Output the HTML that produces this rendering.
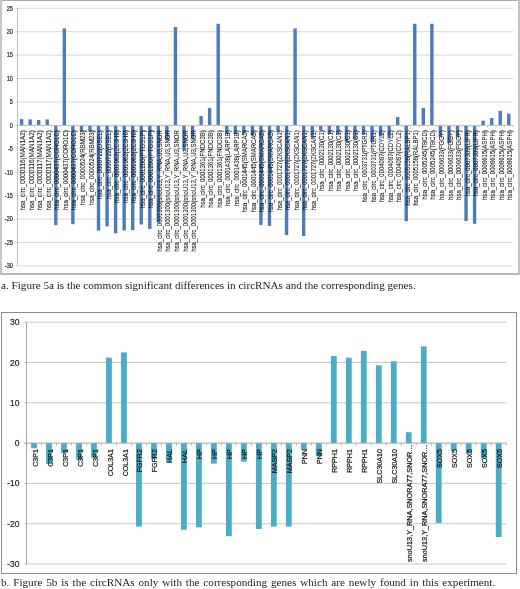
<!DOCTYPE html>
<html><head><meta charset="utf-8"><title>Figure 5</title>
<style>
html,body{margin:0;padding:0;background:#fff;}
body{width:520px;height:589px;position:relative;overflow:hidden;font-family:"Liberation Sans",sans-serif;}
svg text{font-family:"Liberation Sans",sans-serif;}
.cap{will-change:transform;position:absolute;left:1px;font-family:"Liberation Serif",serif;color:#222;white-space:nowrap;line-height:1;}
#capa{top:280px;font-size:11.15px;}
#capb{top:576.8px;font-size:11.15px;word-spacing:1.1px;}
</style></head>
<body>
<svg width="520" height="589" viewBox="0 0 520 589" style="position:absolute;left:0;top:0;will-change:transform">
<rect x="0" y="0" width="520" height="1" fill="#a9a9a9"/>
<rect x="0" y="0" width="2" height="275" fill="#c6c6c6"/>
<rect x="518" y="0" width="2" height="275" fill="#c2c2c2"/>
<rect x="0" y="273" width="520" height="2" fill="#b9b9b9"/>
<line x1="15.50" y1="8.30" x2="513.20" y2="8.30" stroke="#d8d8d8" stroke-width="1"/>
<line x1="15.50" y1="31.72" x2="513.20" y2="31.72" stroke="#d8d8d8" stroke-width="1"/>
<line x1="15.50" y1="55.14" x2="513.20" y2="55.14" stroke="#d8d8d8" stroke-width="1"/>
<line x1="15.50" y1="78.56" x2="513.20" y2="78.56" stroke="#d8d8d8" stroke-width="1"/>
<line x1="15.50" y1="101.98" x2="513.20" y2="101.98" stroke="#d8d8d8" stroke-width="1"/>
<line x1="15.50" y1="148.82" x2="513.20" y2="148.82" stroke="#d8d8d8" stroke-width="1"/>
<line x1="15.50" y1="172.24" x2="513.20" y2="172.24" stroke="#d8d8d8" stroke-width="1"/>
<line x1="15.50" y1="195.66" x2="513.20" y2="195.66" stroke="#d8d8d8" stroke-width="1"/>
<line x1="15.50" y1="219.08" x2="513.20" y2="219.08" stroke="#d8d8d8" stroke-width="1"/>
<line x1="15.50" y1="242.50" x2="513.20" y2="242.50" stroke="#d8d8d8" stroke-width="1"/>
<line x1="15.50" y1="265.92" x2="513.20" y2="265.92" stroke="#d8d8d8" stroke-width="1"/>
<line x1="17.50" y1="8.30" x2="17.50" y2="265.92" stroke="#bfbfbf" stroke-width="1"/>
<rect x="19.90" y="119.08" width="3.40" height="6.32" fill="#4a7cba"/>
<rect x="28.45" y="119.40" width="3.40" height="6.00" fill="#4a7cba"/>
<rect x="36.99" y="119.92" width="3.40" height="5.48" fill="#4a7cba"/>
<rect x="45.54" y="119.40" width="3.40" height="6.00" fill="#4a7cba"/>
<rect x="54.09" y="125.40" width="3.40" height="99.77" fill="#4a7cba"/>
<rect x="62.64" y="28.44" width="3.40" height="96.96" fill="#4a7cba"/>
<rect x="71.18" y="125.40" width="3.40" height="98.83" fill="#4a7cba"/>
<rect x="79.73" y="125.40" width="3.40" height="6.09" fill="#4a7cba"/>
<rect x="88.28" y="125.40" width="3.40" height="6.09" fill="#4a7cba"/>
<rect x="96.82" y="125.40" width="3.40" height="105.16" fill="#4a7cba"/>
<rect x="105.37" y="125.40" width="3.40" height="100.94" fill="#4a7cba"/>
<rect x="113.92" y="125.40" width="3.40" height="107.97" fill="#4a7cba"/>
<rect x="122.46" y="125.40" width="3.40" height="105.16" fill="#4a7cba"/>
<rect x="131.01" y="125.40" width="3.40" height="104.69" fill="#4a7cba"/>
<rect x="139.56" y="125.40" width="3.40" height="99.07" fill="#4a7cba"/>
<rect x="148.11" y="125.40" width="3.40" height="103.52" fill="#4a7cba"/>
<rect x="156.65" y="125.40" width="3.40" height="96.96" fill="#4a7cba"/>
<rect x="165.20" y="125.40" width="3.40" height="14.52" fill="#4a7cba"/>
<rect x="173.75" y="27.04" width="3.40" height="98.36" fill="#4a7cba"/>
<rect x="182.29" y="125.40" width="3.40" height="24.83" fill="#4a7cba"/>
<rect x="190.84" y="125.40" width="3.40" height="13.12" fill="#4a7cba"/>
<rect x="199.39" y="116.03" width="3.40" height="9.37" fill="#4a7cba"/>
<rect x="207.93" y="108.07" width="3.40" height="17.33" fill="#4a7cba"/>
<rect x="216.48" y="23.76" width="3.40" height="101.64" fill="#4a7cba"/>
<rect x="225.03" y="125.40" width="3.40" height="8.67" fill="#4a7cba"/>
<rect x="233.58" y="125.40" width="3.40" height="8.67" fill="#4a7cba"/>
<rect x="242.12" y="125.40" width="3.40" height="7.96" fill="#4a7cba"/>
<rect x="250.67" y="125.40" width="3.40" height="10.30" fill="#4a7cba"/>
<rect x="259.22" y="125.40" width="3.40" height="99.53" fill="#4a7cba"/>
<rect x="267.76" y="125.40" width="3.40" height="100.47" fill="#4a7cba"/>
<rect x="276.31" y="125.40" width="3.40" height="7.03" fill="#4a7cba"/>
<rect x="284.86" y="125.40" width="3.40" height="109.61" fill="#4a7cba"/>
<rect x="293.40" y="28.44" width="3.40" height="96.96" fill="#4a7cba"/>
<rect x="301.95" y="125.40" width="3.40" height="110.54" fill="#4a7cba"/>
<rect x="310.50" y="125.40" width="3.40" height="12.18" fill="#4a7cba"/>
<rect x="319.05" y="125.40" width="3.40" height="5.15" fill="#4a7cba"/>
<rect x="327.59" y="125.40" width="3.40" height="8.67" fill="#4a7cba"/>
<rect x="336.14" y="125.40" width="3.40" height="9.37" fill="#4a7cba"/>
<rect x="344.69" y="125.40" width="3.40" height="16.39" fill="#4a7cba"/>
<rect x="353.23" y="125.40" width="3.40" height="13.82" fill="#4a7cba"/>
<rect x="361.78" y="125.40" width="3.40" height="9.37" fill="#4a7cba"/>
<rect x="370.33" y="125.40" width="3.40" height="16.86" fill="#4a7cba"/>
<rect x="378.87" y="125.40" width="3.40" height="11.24" fill="#4a7cba"/>
<rect x="387.42" y="125.40" width="3.40" height="12.65" fill="#4a7cba"/>
<rect x="395.97" y="116.97" width="3.40" height="8.43" fill="#4a7cba"/>
<rect x="404.52" y="125.40" width="3.40" height="95.79" fill="#4a7cba"/>
<rect x="413.06" y="23.76" width="3.40" height="101.64" fill="#4a7cba"/>
<rect x="421.61" y="108.07" width="3.40" height="17.33" fill="#4a7cba"/>
<rect x="430.16" y="23.76" width="3.40" height="101.64" fill="#4a7cba"/>
<rect x="438.70" y="125.40" width="3.40" height="11.71" fill="#4a7cba"/>
<rect x="447.25" y="125.40" width="3.40" height="17.80" fill="#4a7cba"/>
<rect x="455.80" y="125.40" width="3.40" height="11.71" fill="#4a7cba"/>
<rect x="464.34" y="125.40" width="3.40" height="95.55" fill="#4a7cba"/>
<rect x="472.89" y="125.40" width="3.40" height="98.36" fill="#4a7cba"/>
<rect x="481.44" y="120.72" width="3.40" height="4.68" fill="#4a7cba"/>
<rect x="489.99" y="118.14" width="3.40" height="7.26" fill="#4a7cba"/>
<rect x="498.53" y="110.88" width="3.40" height="14.52" fill="#4a7cba"/>
<rect x="507.08" y="113.69" width="3.40" height="11.71" fill="#4a7cba"/>
<line x1="15.50" y1="125.40" x2="513.20" y2="125.40" stroke="#bfbfbf" stroke-width="1"/>
<line x1="17.50" y1="125.40" x2="17.50" y2="127.40" stroke="#bfbfbf" stroke-width="0.8"/>
<line x1="26.05" y1="125.40" x2="26.05" y2="127.40" stroke="#bfbfbf" stroke-width="0.8"/>
<line x1="34.59" y1="125.40" x2="34.59" y2="127.40" stroke="#bfbfbf" stroke-width="0.8"/>
<line x1="43.14" y1="125.40" x2="43.14" y2="127.40" stroke="#bfbfbf" stroke-width="0.8"/>
<line x1="51.69" y1="125.40" x2="51.69" y2="127.40" stroke="#bfbfbf" stroke-width="0.8"/>
<line x1="60.23" y1="125.40" x2="60.23" y2="127.40" stroke="#bfbfbf" stroke-width="0.8"/>
<line x1="68.78" y1="125.40" x2="68.78" y2="127.40" stroke="#bfbfbf" stroke-width="0.8"/>
<line x1="77.33" y1="125.40" x2="77.33" y2="127.40" stroke="#bfbfbf" stroke-width="0.8"/>
<line x1="85.88" y1="125.40" x2="85.88" y2="127.40" stroke="#bfbfbf" stroke-width="0.8"/>
<line x1="94.42" y1="125.40" x2="94.42" y2="127.40" stroke="#bfbfbf" stroke-width="0.8"/>
<line x1="102.97" y1="125.40" x2="102.97" y2="127.40" stroke="#bfbfbf" stroke-width="0.8"/>
<line x1="111.52" y1="125.40" x2="111.52" y2="127.40" stroke="#bfbfbf" stroke-width="0.8"/>
<line x1="120.06" y1="125.40" x2="120.06" y2="127.40" stroke="#bfbfbf" stroke-width="0.8"/>
<line x1="128.61" y1="125.40" x2="128.61" y2="127.40" stroke="#bfbfbf" stroke-width="0.8"/>
<line x1="137.16" y1="125.40" x2="137.16" y2="127.40" stroke="#bfbfbf" stroke-width="0.8"/>
<line x1="145.71" y1="125.40" x2="145.71" y2="127.40" stroke="#bfbfbf" stroke-width="0.8"/>
<line x1="154.25" y1="125.40" x2="154.25" y2="127.40" stroke="#bfbfbf" stroke-width="0.8"/>
<line x1="162.80" y1="125.40" x2="162.80" y2="127.40" stroke="#bfbfbf" stroke-width="0.8"/>
<line x1="171.35" y1="125.40" x2="171.35" y2="127.40" stroke="#bfbfbf" stroke-width="0.8"/>
<line x1="179.89" y1="125.40" x2="179.89" y2="127.40" stroke="#bfbfbf" stroke-width="0.8"/>
<line x1="188.44" y1="125.40" x2="188.44" y2="127.40" stroke="#bfbfbf" stroke-width="0.8"/>
<line x1="196.99" y1="125.40" x2="196.99" y2="127.40" stroke="#bfbfbf" stroke-width="0.8"/>
<line x1="205.53" y1="125.40" x2="205.53" y2="127.40" stroke="#bfbfbf" stroke-width="0.8"/>
<line x1="214.08" y1="125.40" x2="214.08" y2="127.40" stroke="#bfbfbf" stroke-width="0.8"/>
<line x1="222.63" y1="125.40" x2="222.63" y2="127.40" stroke="#bfbfbf" stroke-width="0.8"/>
<line x1="231.18" y1="125.40" x2="231.18" y2="127.40" stroke="#bfbfbf" stroke-width="0.8"/>
<line x1="239.72" y1="125.40" x2="239.72" y2="127.40" stroke="#bfbfbf" stroke-width="0.8"/>
<line x1="248.27" y1="125.40" x2="248.27" y2="127.40" stroke="#bfbfbf" stroke-width="0.8"/>
<line x1="256.82" y1="125.40" x2="256.82" y2="127.40" stroke="#bfbfbf" stroke-width="0.8"/>
<line x1="265.36" y1="125.40" x2="265.36" y2="127.40" stroke="#bfbfbf" stroke-width="0.8"/>
<line x1="273.91" y1="125.40" x2="273.91" y2="127.40" stroke="#bfbfbf" stroke-width="0.8"/>
<line x1="282.46" y1="125.40" x2="282.46" y2="127.40" stroke="#bfbfbf" stroke-width="0.8"/>
<line x1="291.00" y1="125.40" x2="291.00" y2="127.40" stroke="#bfbfbf" stroke-width="0.8"/>
<line x1="299.55" y1="125.40" x2="299.55" y2="127.40" stroke="#bfbfbf" stroke-width="0.8"/>
<line x1="308.10" y1="125.40" x2="308.10" y2="127.40" stroke="#bfbfbf" stroke-width="0.8"/>
<line x1="316.65" y1="125.40" x2="316.65" y2="127.40" stroke="#bfbfbf" stroke-width="0.8"/>
<line x1="325.19" y1="125.40" x2="325.19" y2="127.40" stroke="#bfbfbf" stroke-width="0.8"/>
<line x1="333.74" y1="125.40" x2="333.74" y2="127.40" stroke="#bfbfbf" stroke-width="0.8"/>
<line x1="342.29" y1="125.40" x2="342.29" y2="127.40" stroke="#bfbfbf" stroke-width="0.8"/>
<line x1="350.83" y1="125.40" x2="350.83" y2="127.40" stroke="#bfbfbf" stroke-width="0.8"/>
<line x1="359.38" y1="125.40" x2="359.38" y2="127.40" stroke="#bfbfbf" stroke-width="0.8"/>
<line x1="367.93" y1="125.40" x2="367.93" y2="127.40" stroke="#bfbfbf" stroke-width="0.8"/>
<line x1="376.47" y1="125.40" x2="376.47" y2="127.40" stroke="#bfbfbf" stroke-width="0.8"/>
<line x1="385.02" y1="125.40" x2="385.02" y2="127.40" stroke="#bfbfbf" stroke-width="0.8"/>
<line x1="393.57" y1="125.40" x2="393.57" y2="127.40" stroke="#bfbfbf" stroke-width="0.8"/>
<line x1="402.12" y1="125.40" x2="402.12" y2="127.40" stroke="#bfbfbf" stroke-width="0.8"/>
<line x1="410.66" y1="125.40" x2="410.66" y2="127.40" stroke="#bfbfbf" stroke-width="0.8"/>
<line x1="419.21" y1="125.40" x2="419.21" y2="127.40" stroke="#bfbfbf" stroke-width="0.8"/>
<line x1="427.76" y1="125.40" x2="427.76" y2="127.40" stroke="#bfbfbf" stroke-width="0.8"/>
<line x1="436.30" y1="125.40" x2="436.30" y2="127.40" stroke="#bfbfbf" stroke-width="0.8"/>
<line x1="444.85" y1="125.40" x2="444.85" y2="127.40" stroke="#bfbfbf" stroke-width="0.8"/>
<line x1="453.40" y1="125.40" x2="453.40" y2="127.40" stroke="#bfbfbf" stroke-width="0.8"/>
<line x1="461.94" y1="125.40" x2="461.94" y2="127.40" stroke="#bfbfbf" stroke-width="0.8"/>
<line x1="470.49" y1="125.40" x2="470.49" y2="127.40" stroke="#bfbfbf" stroke-width="0.8"/>
<line x1="479.04" y1="125.40" x2="479.04" y2="127.40" stroke="#bfbfbf" stroke-width="0.8"/>
<line x1="487.59" y1="125.40" x2="487.59" y2="127.40" stroke="#bfbfbf" stroke-width="0.8"/>
<line x1="496.13" y1="125.40" x2="496.13" y2="127.40" stroke="#bfbfbf" stroke-width="0.8"/>
<line x1="504.68" y1="125.40" x2="504.68" y2="127.40" stroke="#bfbfbf" stroke-width="0.8"/>
<line x1="513.23" y1="125.40" x2="513.23" y2="127.40" stroke="#bfbfbf" stroke-width="0.8"/>
<text transform="translate(12.8,10.57) scale(0.88,1)" font-size="6.3" text-anchor="end" fill="#222" stroke="#222" stroke-width="0.2">25</text>
<text transform="translate(12.8,33.99) scale(0.88,1)" font-size="6.3" text-anchor="end" fill="#222" stroke="#222" stroke-width="0.2">20</text>
<text transform="translate(12.8,57.41) scale(0.88,1)" font-size="6.3" text-anchor="end" fill="#222" stroke="#222" stroke-width="0.2">15</text>
<text transform="translate(12.8,80.83) scale(0.88,1)" font-size="6.3" text-anchor="end" fill="#222" stroke="#222" stroke-width="0.2">10</text>
<text transform="translate(12.8,104.25) scale(0.88,1)" font-size="6.3" text-anchor="end" fill="#222" stroke="#222" stroke-width="0.2">5</text>
<text transform="translate(12.8,127.67) scale(0.88,1)" font-size="6.3" text-anchor="end" fill="#222" stroke="#222" stroke-width="0.2">0</text>
<text transform="translate(12.8,151.09) scale(0.88,1)" font-size="6.3" text-anchor="end" fill="#222" stroke="#222" stroke-width="0.2">-5</text>
<text transform="translate(12.8,174.51) scale(0.88,1)" font-size="6.3" text-anchor="end" fill="#222" stroke="#222" stroke-width="0.2">-10</text>
<text transform="translate(12.8,197.93) scale(0.88,1)" font-size="6.3" text-anchor="end" fill="#222" stroke="#222" stroke-width="0.2">-15</text>
<text transform="translate(12.8,221.35) scale(0.88,1)" font-size="6.3" text-anchor="end" fill="#222" stroke="#222" stroke-width="0.2">-20</text>
<text transform="translate(12.8,244.77) scale(0.88,1)" font-size="6.3" text-anchor="end" fill="#222" stroke="#222" stroke-width="0.2">-25</text>
<text transform="translate(12.8,268.19) scale(0.88,1)" font-size="6.3" text-anchor="end" fill="#222" stroke="#222" stroke-width="0.2">-30</text>
<text transform="translate(25.15,130.20) rotate(-90)" font-size="6.8" text-anchor="end" fill="#1a1a1a" stroke="#1a1a1a" stroke-width="0.08" textLength="80.4" lengthAdjust="spacingAndGlyphs">hsa_circ_0000116(MAN1A2)</text>
<text transform="translate(33.70,130.20) rotate(-90)" font-size="6.8" text-anchor="end" fill="#1a1a1a" stroke="#1a1a1a" stroke-width="0.08" textLength="80.4" lengthAdjust="spacingAndGlyphs">hsa_circ_0000116(MAN1A2)</text>
<text transform="translate(42.24,130.20) rotate(-90)" font-size="6.8" text-anchor="end" fill="#1a1a1a" stroke="#1a1a1a" stroke-width="0.08" textLength="80.4" lengthAdjust="spacingAndGlyphs">hsa_circ_0000117(MAN1A2)</text>
<text transform="translate(50.79,130.20) rotate(-90)" font-size="6.8" text-anchor="end" fill="#1a1a1a" stroke="#1a1a1a" stroke-width="0.08" textLength="80.4" lengthAdjust="spacingAndGlyphs">hsa_circ_0000117(MAN1A2)</text>
<text transform="translate(59.34,130.20) rotate(-90)" font-size="6.8" text-anchor="end" fill="#1a1a1a" stroke="#1a1a1a" stroke-width="0.08" textLength="79.7" lengthAdjust="spacingAndGlyphs">hsa_circ_0000437(CORO1C)</text>
<text transform="translate(67.88,130.20) rotate(-90)" font-size="6.8" text-anchor="end" fill="#1a1a1a" stroke="#1a1a1a" stroke-width="0.08" textLength="79.7" lengthAdjust="spacingAndGlyphs">hsa_circ_0000437(CORO1C)</text>
<text transform="translate(76.43,130.20) rotate(-90)" font-size="6.8" text-anchor="end" fill="#1a1a1a" stroke="#1a1a1a" stroke-width="0.08" textLength="79.7" lengthAdjust="spacingAndGlyphs">hsa_circ_0000437(CORO1C)</text>
<text transform="translate(84.98,130.20) rotate(-90)" font-size="6.8" text-anchor="end" fill="#1a1a1a" stroke="#1a1a1a" stroke-width="0.08" textLength="75.1" lengthAdjust="spacingAndGlyphs">hsa_circ_0000524(RBM23)</text>
<text transform="translate(93.52,130.20) rotate(-90)" font-size="6.8" text-anchor="end" fill="#1a1a1a" stroke="#1a1a1a" stroke-width="0.08" textLength="75.1" lengthAdjust="spacingAndGlyphs">hsa_circ_0000524(RBM23)</text>
<text transform="translate(102.07,130.20) rotate(-90)" font-size="6.8" text-anchor="end" fill="#1a1a1a" stroke="#1a1a1a" stroke-width="0.08" textLength="68.9" lengthAdjust="spacingAndGlyphs">hsa_circ_0000722(DSEL)</text>
<text transform="translate(110.62,130.20) rotate(-90)" font-size="6.8" text-anchor="end" fill="#1a1a1a" stroke="#1a1a1a" stroke-width="0.08" textLength="68.9" lengthAdjust="spacingAndGlyphs">hsa_circ_0000722(DSEL)</text>
<text transform="translate(119.17,130.20) rotate(-90)" font-size="6.8" text-anchor="end" fill="#1a1a1a" stroke="#1a1a1a" stroke-width="0.08" textLength="72.8" lengthAdjust="spacingAndGlyphs">hsa_circ_0001062(ZC3H6)</text>
<text transform="translate(127.71,130.20) rotate(-90)" font-size="6.8" text-anchor="end" fill="#1a1a1a" stroke="#1a1a1a" stroke-width="0.08" textLength="72.8" lengthAdjust="spacingAndGlyphs">hsa_circ_0001062(ZC3H6)</text>
<text transform="translate(136.26,130.20) rotate(-90)" font-size="6.8" text-anchor="end" fill="#1a1a1a" stroke="#1a1a1a" stroke-width="0.08" textLength="72.8" lengthAdjust="spacingAndGlyphs">hsa_circ_0001062(ZC3H6)</text>
<text transform="translate(144.81,130.20) rotate(-90)" font-size="6.8" text-anchor="end" fill="#1a1a1a" stroke="#1a1a1a" stroke-width="0.08" textLength="78.1" lengthAdjust="spacingAndGlyphs">hsa_circ_0001200(PTGS1P)</text>
<text transform="translate(153.35,130.20) rotate(-90)" font-size="6.8" text-anchor="end" fill="#1a1a1a" stroke="#1a1a1a" stroke-width="0.08" textLength="78.1" lengthAdjust="spacingAndGlyphs">hsa_circ_0001200(PTGS1P)</text>
<text transform="translate(161.90,130.20) rotate(-90)" font-size="6.8" text-anchor="end" fill="#1a1a1a" stroke="#1a1a1a" stroke-width="0.08" textLength="121.6" lengthAdjust="spacingAndGlyphs">hsa_circ_0001300(snoU13,Y_RNA,U3,SNOR</text>
<text transform="translate(170.45,130.20) rotate(-90)" font-size="6.8" text-anchor="end" fill="#1a1a1a" stroke="#1a1a1a" stroke-width="0.08" textLength="121.6" lengthAdjust="spacingAndGlyphs">hsa_circ_0001300(snoU13,Y_RNA,U3,SNOR</text>
<text transform="translate(178.99,130.20) rotate(-90)" font-size="6.8" text-anchor="end" fill="#1a1a1a" stroke="#1a1a1a" stroke-width="0.08" textLength="121.6" lengthAdjust="spacingAndGlyphs">hsa_circ_0001300(snoU13,Y_RNA,U3,SNOR</text>
<text transform="translate(187.54,130.20) rotate(-90)" font-size="6.8" text-anchor="end" fill="#1a1a1a" stroke="#1a1a1a" stroke-width="0.08" textLength="121.6" lengthAdjust="spacingAndGlyphs">hsa_circ_0001300(snoU13,Y_RNA,U3,SNOR</text>
<text transform="translate(196.09,130.20) rotate(-90)" font-size="6.8" text-anchor="end" fill="#1a1a1a" stroke="#1a1a1a" stroke-width="0.08" textLength="121.6" lengthAdjust="spacingAndGlyphs">hsa_circ_0001300(snoU13,Y_RNA,U3,SNOR</text>
<text transform="translate(204.64,130.20) rotate(-90)" font-size="6.8" text-anchor="end" fill="#1a1a1a" stroke="#1a1a1a" stroke-width="0.08" textLength="77.6" lengthAdjust="spacingAndGlyphs">hsa_circ_0001361(FNDC3B)</text>
<text transform="translate(213.18,130.20) rotate(-90)" font-size="6.8" text-anchor="end" fill="#1a1a1a" stroke="#1a1a1a" stroke-width="0.08" textLength="77.6" lengthAdjust="spacingAndGlyphs">hsa_circ_0001361(FNDC3B)</text>
<text transform="translate(221.73,130.20) rotate(-90)" font-size="6.8" text-anchor="end" fill="#1a1a1a" stroke="#1a1a1a" stroke-width="0.08" textLength="77.6" lengthAdjust="spacingAndGlyphs">hsa_circ_0001361(FNDC3B)</text>
<text transform="translate(230.28,130.20) rotate(-90)" font-size="6.8" text-anchor="end" fill="#1a1a1a" stroke="#1a1a1a" stroke-width="0.08" textLength="75.9" lengthAdjust="spacingAndGlyphs">hsa_circ_0001438(LARP1B)</text>
<text transform="translate(238.82,130.20) rotate(-90)" font-size="6.8" text-anchor="end" fill="#1a1a1a" stroke="#1a1a1a" stroke-width="0.08" textLength="75.9" lengthAdjust="spacingAndGlyphs">hsa_circ_0001438(LARP1B)</text>
<text transform="translate(247.37,130.20) rotate(-90)" font-size="6.8" text-anchor="end" fill="#1a1a1a" stroke="#1a1a1a" stroke-width="0.08" textLength="82.4" lengthAdjust="spacingAndGlyphs">hsa_circ_0001445(SMARCA5)</text>
<text transform="translate(255.92,130.20) rotate(-90)" font-size="6.8" text-anchor="end" fill="#1a1a1a" stroke="#1a1a1a" stroke-width="0.08" textLength="82.4" lengthAdjust="spacingAndGlyphs">hsa_circ_0001445(SMARCA5)</text>
<text transform="translate(264.46,130.20) rotate(-90)" font-size="6.8" text-anchor="end" fill="#1a1a1a" stroke="#1a1a1a" stroke-width="0.08" textLength="82.4" lengthAdjust="spacingAndGlyphs">hsa_circ_0001445(SMARCA5)</text>
<text transform="translate(273.01,130.20) rotate(-90)" font-size="6.8" text-anchor="end" fill="#1a1a1a" stroke="#1a1a1a" stroke-width="0.08" textLength="82.4" lengthAdjust="spacingAndGlyphs">hsa_circ_0001445(SMARCA5)</text>
<text transform="translate(281.56,130.20) rotate(-90)" font-size="6.8" text-anchor="end" fill="#1a1a1a" stroke="#1a1a1a" stroke-width="0.08" textLength="80.1" lengthAdjust="spacingAndGlyphs">hsa_circ_0001727(ZKSCAN1)</text>
<text transform="translate(290.11,130.20) rotate(-90)" font-size="6.8" text-anchor="end" fill="#1a1a1a" stroke="#1a1a1a" stroke-width="0.08" textLength="80.1" lengthAdjust="spacingAndGlyphs">hsa_circ_0001727(ZKSCAN1)</text>
<text transform="translate(298.65,130.20) rotate(-90)" font-size="6.8" text-anchor="end" fill="#1a1a1a" stroke="#1a1a1a" stroke-width="0.08" textLength="80.1" lengthAdjust="spacingAndGlyphs">hsa_circ_0001727(ZKSCAN1)</text>
<text transform="translate(307.20,130.20) rotate(-90)" font-size="6.8" text-anchor="end" fill="#1a1a1a" stroke="#1a1a1a" stroke-width="0.08" textLength="80.1" lengthAdjust="spacingAndGlyphs">hsa_circ_0001727(ZKSCAN1)</text>
<text transform="translate(315.75,130.20) rotate(-90)" font-size="6.8" text-anchor="end" fill="#1a1a1a" stroke="#1a1a1a" stroke-width="0.08" textLength="80.1" lengthAdjust="spacingAndGlyphs">hsa_circ_0001727(ZKSCAN1)</text>
<text transform="translate(324.29,130.20) rotate(-90)" font-size="6.8" text-anchor="end" fill="#1a1a1a" stroke="#1a1a1a" stroke-width="0.08" textLength="60.9" lengthAdjust="spacingAndGlyphs">hsa_circ_0002130(C1)</text>
<text transform="translate(332.84,130.20) rotate(-90)" font-size="6.8" text-anchor="end" fill="#1a1a1a" stroke="#1a1a1a" stroke-width="0.08" textLength="60.9" lengthAdjust="spacingAndGlyphs">hsa_circ_0002130(C1)</text>
<text transform="translate(341.39,130.20) rotate(-90)" font-size="6.8" text-anchor="end" fill="#1a1a1a" stroke="#1a1a1a" stroke-width="0.08" textLength="60.9" lengthAdjust="spacingAndGlyphs">hsa_circ_0002130(C1)</text>
<text transform="translate(349.93,130.20) rotate(-90)" font-size="6.8" text-anchor="end" fill="#1a1a1a" stroke="#1a1a1a" stroke-width="0.08" textLength="60.9" lengthAdjust="spacingAndGlyphs">hsa_circ_0002130(C1)</text>
<text transform="translate(358.48,130.20) rotate(-90)" font-size="6.8" text-anchor="end" fill="#1a1a1a" stroke="#1a1a1a" stroke-width="0.08" textLength="60.9" lengthAdjust="spacingAndGlyphs">hsa_circ_0002130(C1)</text>
<text transform="translate(367.03,130.20) rotate(-90)" font-size="6.8" text-anchor="end" fill="#1a1a1a" stroke="#1a1a1a" stroke-width="0.08" textLength="72.4" lengthAdjust="spacingAndGlyphs">hsa_circ_0003731(PTGR1)</text>
<text transform="translate(375.58,130.20) rotate(-90)" font-size="6.8" text-anchor="end" fill="#1a1a1a" stroke="#1a1a1a" stroke-width="0.08" textLength="72.4" lengthAdjust="spacingAndGlyphs">hsa_circ_0003731(PTGR1)</text>
<text transform="translate(384.12,130.20) rotate(-90)" font-size="6.8" text-anchor="end" fill="#1a1a1a" stroke="#1a1a1a" stroke-width="0.08" textLength="72.0" lengthAdjust="spacingAndGlyphs">hsa_circ_0004087(CDYL2)</text>
<text transform="translate(392.67,130.20) rotate(-90)" font-size="6.8" text-anchor="end" fill="#1a1a1a" stroke="#1a1a1a" stroke-width="0.08" textLength="72.0" lengthAdjust="spacingAndGlyphs">hsa_circ_0004087(CDYL2)</text>
<text transform="translate(401.22,130.20) rotate(-90)" font-size="6.8" text-anchor="end" fill="#1a1a1a" stroke="#1a1a1a" stroke-width="0.08" textLength="72.0" lengthAdjust="spacingAndGlyphs">hsa_circ_0004087(CDYL2)</text>
<text transform="translate(409.76,130.20) rotate(-90)" font-size="6.8" text-anchor="end" fill="#1a1a1a" stroke="#1a1a1a" stroke-width="0.08" textLength="75.3" lengthAdjust="spacingAndGlyphs">hsa_circ_0005158(RALBP1)</text>
<text transform="translate(418.31,130.20) rotate(-90)" font-size="6.8" text-anchor="end" fill="#1a1a1a" stroke="#1a1a1a" stroke-width="0.08" textLength="75.3" lengthAdjust="spacingAndGlyphs">hsa_circ_0005158(RALBP1)</text>
<text transform="translate(426.86,130.20) rotate(-90)" font-size="6.8" text-anchor="end" fill="#1a1a1a" stroke="#1a1a1a" stroke-width="0.08" textLength="69.5" lengthAdjust="spacingAndGlyphs">hsa_circ_0005245(TBCD)</text>
<text transform="translate(435.40,130.20) rotate(-90)" font-size="6.8" text-anchor="end" fill="#1a1a1a" stroke="#1a1a1a" stroke-width="0.08" textLength="69.5" lengthAdjust="spacingAndGlyphs">hsa_circ_0005245(TBCD)</text>
<text transform="translate(443.95,130.20) rotate(-90)" font-size="6.8" text-anchor="end" fill="#1a1a1a" stroke="#1a1a1a" stroke-width="0.08" textLength="69.7" lengthAdjust="spacingAndGlyphs">hsa_circ_0006633(FGGY)</text>
<text transform="translate(452.50,130.20) rotate(-90)" font-size="6.8" text-anchor="end" fill="#1a1a1a" stroke="#1a1a1a" stroke-width="0.08" textLength="69.7" lengthAdjust="spacingAndGlyphs">hsa_circ_0006633(FGGY)</text>
<text transform="translate(461.05,130.20) rotate(-90)" font-size="6.8" text-anchor="end" fill="#1a1a1a" stroke="#1a1a1a" stroke-width="0.08" textLength="69.7" lengthAdjust="spacingAndGlyphs">hsa_circ_0006633(FGGY)</text>
<text transform="translate(469.59,130.20) rotate(-90)" font-size="6.8" text-anchor="end" fill="#1a1a1a" stroke="#1a1a1a" stroke-width="0.08" textLength="66.3" lengthAdjust="spacingAndGlyphs">hsa_circ_0007309(LIFR)</text>
<text transform="translate(478.14,130.20) rotate(-90)" font-size="6.8" text-anchor="end" fill="#1a1a1a" stroke="#1a1a1a" stroke-width="0.08" textLength="66.3" lengthAdjust="spacingAndGlyphs">hsa_circ_0007309(LIFR)</text>
<text transform="translate(486.69,130.20) rotate(-90)" font-size="6.8" text-anchor="end" fill="#1a1a1a" stroke="#1a1a1a" stroke-width="0.08" textLength="69.8" lengthAdjust="spacingAndGlyphs">hsa_circ_0008615(ASPH)</text>
<text transform="translate(495.23,130.20) rotate(-90)" font-size="6.8" text-anchor="end" fill="#1a1a1a" stroke="#1a1a1a" stroke-width="0.08" textLength="69.8" lengthAdjust="spacingAndGlyphs">hsa_circ_0008615(ASPH)</text>
<text transform="translate(503.78,130.20) rotate(-90)" font-size="6.8" text-anchor="end" fill="#1a1a1a" stroke="#1a1a1a" stroke-width="0.08" textLength="69.8" lengthAdjust="spacingAndGlyphs">hsa_circ_0008615(ASPH)</text>
<text transform="translate(512.33,130.20) rotate(-90)" font-size="6.8" text-anchor="end" fill="#1a1a1a" stroke="#1a1a1a" stroke-width="0.08" textLength="69.8" lengthAdjust="spacingAndGlyphs">hsa_circ_0008615(ASPH)</text>
<rect x="1.5" y="312.5" width="515" height="261" fill="none" stroke="#8c8c8c" stroke-width="1"/>
<line x1="23.90" y1="322.20" x2="506.20" y2="322.20" stroke="#c8c8c8" stroke-width="1"/>
<line x1="23.90" y1="362.50" x2="506.20" y2="362.50" stroke="#c8c8c8" stroke-width="1"/>
<line x1="23.90" y1="402.80" x2="506.20" y2="402.80" stroke="#c8c8c8" stroke-width="1"/>
<line x1="23.90" y1="483.40" x2="506.20" y2="483.40" stroke="#c8c8c8" stroke-width="1"/>
<line x1="23.90" y1="523.70" x2="506.20" y2="523.70" stroke="#c8c8c8" stroke-width="1"/>
<line x1="23.90" y1="564.00" x2="506.20" y2="564.00" stroke="#c8c8c8" stroke-width="1"/>
<line x1="26.50" y1="322.20" x2="26.50" y2="564.00" stroke="#a6a6a6" stroke-width="1"/>
<rect x="31.10" y="443.10" width="5.80" height="5.24" fill="#4bacc6"/>
<rect x="46.09" y="443.10" width="5.80" height="20.96" fill="#4bacc6"/>
<rect x="61.08" y="443.10" width="5.80" height="10.07" fill="#4bacc6"/>
<rect x="76.07" y="443.10" width="5.80" height="16.52" fill="#4bacc6"/>
<rect x="91.06" y="443.10" width="5.80" height="14.51" fill="#4bacc6"/>
<rect x="106.05" y="357.66" width="5.80" height="85.44" fill="#4bacc6"/>
<rect x="121.04" y="352.43" width="5.80" height="90.68" fill="#4bacc6"/>
<rect x="136.03" y="443.10" width="5.80" height="83.42" fill="#4bacc6"/>
<rect x="151.02" y="443.10" width="5.80" height="16.12" fill="#4bacc6"/>
<rect x="166.01" y="443.10" width="5.80" height="19.34" fill="#4bacc6"/>
<rect x="181.00" y="443.10" width="5.80" height="86.64" fill="#4bacc6"/>
<rect x="195.99" y="443.10" width="5.80" height="84.23" fill="#4bacc6"/>
<rect x="210.98" y="443.10" width="5.80" height="20.55" fill="#4bacc6"/>
<rect x="225.97" y="443.10" width="5.80" height="93.09" fill="#4bacc6"/>
<rect x="240.96" y="443.10" width="5.80" height="18.54" fill="#4bacc6"/>
<rect x="255.95" y="443.10" width="5.80" height="85.84" fill="#4bacc6"/>
<rect x="270.94" y="443.10" width="5.80" height="83.42" fill="#4bacc6"/>
<rect x="285.93" y="443.10" width="5.80" height="83.42" fill="#4bacc6"/>
<rect x="300.92" y="443.10" width="5.80" height="6.65" fill="#4bacc6"/>
<rect x="315.91" y="443.10" width="5.80" height="13.10" fill="#4bacc6"/>
<rect x="330.90" y="356.05" width="5.80" height="87.05" fill="#4bacc6"/>
<rect x="345.89" y="357.66" width="5.80" height="85.44" fill="#4bacc6"/>
<rect x="360.88" y="350.81" width="5.80" height="92.29" fill="#4bacc6"/>
<rect x="375.87" y="365.32" width="5.80" height="77.78" fill="#4bacc6"/>
<rect x="390.86" y="361.29" width="5.80" height="81.81" fill="#4bacc6"/>
<rect x="405.85" y="432.22" width="5.80" height="10.88" fill="#4bacc6"/>
<rect x="420.84" y="346.38" width="5.80" height="96.72" fill="#4bacc6"/>
<rect x="435.83" y="443.10" width="5.80" height="79.79" fill="#4bacc6"/>
<rect x="450.82" y="443.10" width="5.80" height="7.66" fill="#4bacc6"/>
<rect x="465.81" y="443.10" width="5.80" height="10.28" fill="#4bacc6"/>
<rect x="480.80" y="443.10" width="5.80" height="15.11" fill="#4bacc6"/>
<rect x="495.79" y="443.10" width="5.80" height="93.90" fill="#4bacc6"/>
<line x1="23.90" y1="443.10" x2="506.20" y2="443.10" stroke="#a6a6a6" stroke-width="1"/>
<line x1="26.50" y1="443.10" x2="26.50" y2="445.70" stroke="#a6a6a6" stroke-width="0.8"/>
<line x1="41.49" y1="443.10" x2="41.49" y2="445.70" stroke="#a6a6a6" stroke-width="0.8"/>
<line x1="56.48" y1="443.10" x2="56.48" y2="445.70" stroke="#a6a6a6" stroke-width="0.8"/>
<line x1="71.47" y1="443.10" x2="71.47" y2="445.70" stroke="#a6a6a6" stroke-width="0.8"/>
<line x1="86.46" y1="443.10" x2="86.46" y2="445.70" stroke="#a6a6a6" stroke-width="0.8"/>
<line x1="101.45" y1="443.10" x2="101.45" y2="445.70" stroke="#a6a6a6" stroke-width="0.8"/>
<line x1="116.44" y1="443.10" x2="116.44" y2="445.70" stroke="#a6a6a6" stroke-width="0.8"/>
<line x1="131.43" y1="443.10" x2="131.43" y2="445.70" stroke="#a6a6a6" stroke-width="0.8"/>
<line x1="146.42" y1="443.10" x2="146.42" y2="445.70" stroke="#a6a6a6" stroke-width="0.8"/>
<line x1="161.41" y1="443.10" x2="161.41" y2="445.70" stroke="#a6a6a6" stroke-width="0.8"/>
<line x1="176.40" y1="443.10" x2="176.40" y2="445.70" stroke="#a6a6a6" stroke-width="0.8"/>
<line x1="191.39" y1="443.10" x2="191.39" y2="445.70" stroke="#a6a6a6" stroke-width="0.8"/>
<line x1="206.38" y1="443.10" x2="206.38" y2="445.70" stroke="#a6a6a6" stroke-width="0.8"/>
<line x1="221.37" y1="443.10" x2="221.37" y2="445.70" stroke="#a6a6a6" stroke-width="0.8"/>
<line x1="236.36" y1="443.10" x2="236.36" y2="445.70" stroke="#a6a6a6" stroke-width="0.8"/>
<line x1="251.35" y1="443.10" x2="251.35" y2="445.70" stroke="#a6a6a6" stroke-width="0.8"/>
<line x1="266.34" y1="443.10" x2="266.34" y2="445.70" stroke="#a6a6a6" stroke-width="0.8"/>
<line x1="281.33" y1="443.10" x2="281.33" y2="445.70" stroke="#a6a6a6" stroke-width="0.8"/>
<line x1="296.32" y1="443.10" x2="296.32" y2="445.70" stroke="#a6a6a6" stroke-width="0.8"/>
<line x1="311.31" y1="443.10" x2="311.31" y2="445.70" stroke="#a6a6a6" stroke-width="0.8"/>
<line x1="326.30" y1="443.10" x2="326.30" y2="445.70" stroke="#a6a6a6" stroke-width="0.8"/>
<line x1="341.29" y1="443.10" x2="341.29" y2="445.70" stroke="#a6a6a6" stroke-width="0.8"/>
<line x1="356.28" y1="443.10" x2="356.28" y2="445.70" stroke="#a6a6a6" stroke-width="0.8"/>
<line x1="371.27" y1="443.10" x2="371.27" y2="445.70" stroke="#a6a6a6" stroke-width="0.8"/>
<line x1="386.26" y1="443.10" x2="386.26" y2="445.70" stroke="#a6a6a6" stroke-width="0.8"/>
<line x1="401.25" y1="443.10" x2="401.25" y2="445.70" stroke="#a6a6a6" stroke-width="0.8"/>
<line x1="416.24" y1="443.10" x2="416.24" y2="445.70" stroke="#a6a6a6" stroke-width="0.8"/>
<line x1="431.23" y1="443.10" x2="431.23" y2="445.70" stroke="#a6a6a6" stroke-width="0.8"/>
<line x1="446.22" y1="443.10" x2="446.22" y2="445.70" stroke="#a6a6a6" stroke-width="0.8"/>
<line x1="461.21" y1="443.10" x2="461.21" y2="445.70" stroke="#a6a6a6" stroke-width="0.8"/>
<line x1="476.20" y1="443.10" x2="476.20" y2="445.70" stroke="#a6a6a6" stroke-width="0.8"/>
<line x1="491.19" y1="443.10" x2="491.19" y2="445.70" stroke="#a6a6a6" stroke-width="0.8"/>
<line x1="506.18" y1="443.10" x2="506.18" y2="445.70" stroke="#a6a6a6" stroke-width="0.8"/>
<text transform="translate(19.5,325.26) scale(1.0,1)" font-size="8.5" text-anchor="end" fill="#222" stroke="#222" stroke-width="0.2">30</text>
<text transform="translate(19.5,365.56) scale(1.0,1)" font-size="8.5" text-anchor="end" fill="#222" stroke="#222" stroke-width="0.2">20</text>
<text transform="translate(19.5,405.86) scale(1.0,1)" font-size="8.5" text-anchor="end" fill="#222" stroke="#222" stroke-width="0.2">10</text>
<text transform="translate(19.5,446.16) scale(1.0,1)" font-size="8.5" text-anchor="end" fill="#222" stroke="#222" stroke-width="0.2">0</text>
<text transform="translate(19.5,486.46) scale(1.0,1)" font-size="8.5" text-anchor="end" fill="#222" stroke="#222" stroke-width="0.2">-10</text>
<text transform="translate(19.5,526.76) scale(1.0,1)" font-size="8.5" text-anchor="end" fill="#222" stroke="#222" stroke-width="0.2">-20</text>
<text transform="translate(19.5,567.06) scale(1.0,1)" font-size="8.5" text-anchor="end" fill="#222" stroke="#222" stroke-width="0.2">-30</text>
<text transform="translate(37.56,449.10) rotate(-90)" font-size="7.1" text-anchor="end" fill="#111" stroke="#111" stroke-width="0.2">C3P1</text>
<text transform="translate(52.55,449.10) rotate(-90)" font-size="7.1" text-anchor="end" fill="#111" stroke="#111" stroke-width="0.2">C3P1</text>
<text transform="translate(67.54,449.10) rotate(-90)" font-size="7.1" text-anchor="end" fill="#111" stroke="#111" stroke-width="0.2">C3P1</text>
<text transform="translate(82.53,449.10) rotate(-90)" font-size="7.1" text-anchor="end" fill="#111" stroke="#111" stroke-width="0.2">C3P1</text>
<text transform="translate(97.52,449.10) rotate(-90)" font-size="7.1" text-anchor="end" fill="#111" stroke="#111" stroke-width="0.2">C3P1</text>
<text transform="translate(112.51,449.10) rotate(-90)" font-size="7.1" text-anchor="end" fill="#111" stroke="#111" stroke-width="0.2">COL3A1</text>
<text transform="translate(127.50,449.10) rotate(-90)" font-size="7.1" text-anchor="end" fill="#111" stroke="#111" stroke-width="0.2">COL3A1</text>
<text transform="translate(142.49,449.10) rotate(-90)" font-size="7.1" text-anchor="end" fill="#111" stroke="#111" stroke-width="0.2">FGFR2</text>
<text transform="translate(157.48,449.10) rotate(-90)" font-size="7.1" text-anchor="end" fill="#111" stroke="#111" stroke-width="0.2">FGFR2</text>
<text transform="translate(172.47,449.10) rotate(-90)" font-size="7.1" text-anchor="end" fill="#111" stroke="#111" stroke-width="0.2">HAL</text>
<text transform="translate(187.46,449.10) rotate(-90)" font-size="7.1" text-anchor="end" fill="#111" stroke="#111" stroke-width="0.2">HAL</text>
<text transform="translate(202.45,449.10) rotate(-90)" font-size="7.1" text-anchor="end" fill="#111" stroke="#111" stroke-width="0.2">HP</text>
<text transform="translate(217.44,449.10) rotate(-90)" font-size="7.1" text-anchor="end" fill="#111" stroke="#111" stroke-width="0.2">HP</text>
<text transform="translate(232.43,449.10) rotate(-90)" font-size="7.1" text-anchor="end" fill="#111" stroke="#111" stroke-width="0.2">HP</text>
<text transform="translate(247.42,449.10) rotate(-90)" font-size="7.1" text-anchor="end" fill="#111" stroke="#111" stroke-width="0.2">HP</text>
<text transform="translate(262.41,449.10) rotate(-90)" font-size="7.1" text-anchor="end" fill="#111" stroke="#111" stroke-width="0.2">HP</text>
<text transform="translate(277.40,449.10) rotate(-90)" font-size="7.1" text-anchor="end" fill="#111" stroke="#111" stroke-width="0.2">MASP2</text>
<text transform="translate(292.39,449.10) rotate(-90)" font-size="7.1" text-anchor="end" fill="#111" stroke="#111" stroke-width="0.2">MASP2</text>
<text transform="translate(307.38,449.10) rotate(-90)" font-size="7.1" text-anchor="end" fill="#111" stroke="#111" stroke-width="0.2">PNN</text>
<text transform="translate(322.37,449.10) rotate(-90)" font-size="7.1" text-anchor="end" fill="#111" stroke="#111" stroke-width="0.2">PNN</text>
<text transform="translate(337.36,449.10) rotate(-90)" font-size="7.1" text-anchor="end" fill="#111" stroke="#111" stroke-width="0.2">RPPH1</text>
<text transform="translate(352.35,449.10) rotate(-90)" font-size="7.1" text-anchor="end" fill="#111" stroke="#111" stroke-width="0.2">RPPH1</text>
<text transform="translate(367.34,449.10) rotate(-90)" font-size="7.1" text-anchor="end" fill="#111" stroke="#111" stroke-width="0.2">RPPH1</text>
<text transform="translate(382.33,449.10) rotate(-90)" font-size="7.1" text-anchor="end" fill="#111" stroke="#111" stroke-width="0.2">SLC30A10</text>
<text transform="translate(397.32,449.10) rotate(-90)" font-size="7.1" text-anchor="end" fill="#111" stroke="#111" stroke-width="0.2">SLC30A10</text>
<text transform="translate(412.31,444.40) rotate(-90)" font-size="7.1" text-anchor="end" fill="#111" stroke="#111" stroke-width="0.2" textLength="117.5" lengthAdjust="spacingAndGlyphs">snoU13,Y_RNA,SNORA77,SNOR…</text>
<text transform="translate(427.30,444.40) rotate(-90)" font-size="7.1" text-anchor="end" fill="#111" stroke="#111" stroke-width="0.2" textLength="117.5" lengthAdjust="spacingAndGlyphs">snoU13,Y_RNA,SNORA77,SNOR…</text>
<text transform="translate(442.29,449.10) rotate(-90)" font-size="7.1" text-anchor="end" fill="#111" stroke="#111" stroke-width="0.2">SOX5</text>
<text transform="translate(457.28,449.10) rotate(-90)" font-size="7.1" text-anchor="end" fill="#111" stroke="#111" stroke-width="0.2">SOX5</text>
<text transform="translate(472.27,449.10) rotate(-90)" font-size="7.1" text-anchor="end" fill="#111" stroke="#111" stroke-width="0.2">SOX5</text>
<text transform="translate(487.26,449.10) rotate(-90)" font-size="7.1" text-anchor="end" fill="#111" stroke="#111" stroke-width="0.2">SOX5</text>
<text transform="translate(502.25,449.10) rotate(-90)" font-size="7.1" text-anchor="end" fill="#111" stroke="#111" stroke-width="0.2">SOX5</text>
</svg>
<div class="cap" id="capa">a. Figure 5a is the common significant differences in circRNAs and the corresponding genes.</div>
<div class="cap" id="capb">b. Figure 5b is the circRNAs only with the corresponding genes which are newly found in this experiment.</div>
</body></html>
